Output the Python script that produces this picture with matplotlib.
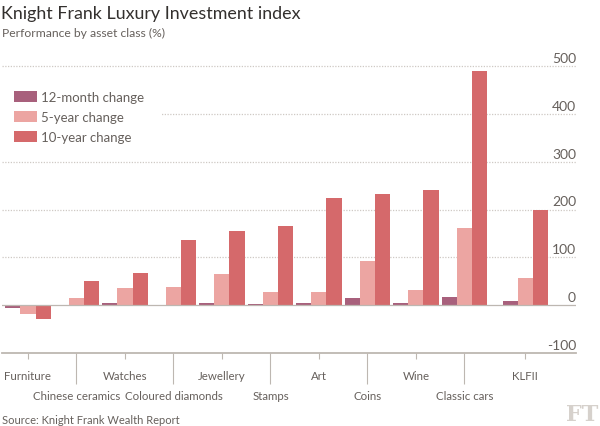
import matplotlib
matplotlib.use("Agg")
import matplotlib.pyplot as plt
import matplotlib.transforms as mtransforms
from matplotlib.patches import Patch
import numpy as np

# -- Data --------------------------------------------------------------------
CATEGORIES = ["Furniture", "Chinese ceramics", "Watches", "Coloured diamonds",
              "Jewellery", "Stamps", "Art", "Coins", "Wine", "Classic cars",
              "KLFII"]
POSITIONS = [0, 1, 2, 3, 4, 5, 6, 7, 8, 9, 10.25]
CHANGE_12M = [-5, 0, 5, 0, 4, 2, 4, 14, 5, 17, 8]
CHANGE_5Y = [-19, 14, 36, 39, 65, 28, 28, 92, 32, 162, 57]
CHANGE_10Y = [-28, 50, 67, 136, 155, 165, 225, 232, 240, 489, 200]
SERIES_LABELS = ["12-month change", "5-year change", "10-year change"]
YTICKS = [-100, 0, 100, 200, 300, 400, 500]

COLORS = ["#a8607c", "#eca5a2", "#d5696b"]
TEXT_DARK = "#33302e"
TEXT_GREY = "#66605c"
LINE_GREY = "#bdb7b1"

plt.rcParams.update({
    "font.family": ["Lato", "DejaVu Sans"],
    "font.size": 9,
})

fig = plt.figure(figsize=(6.0, 4.27), dpi=100, facecolor="white")
ax = fig.add_axes([2 / 600, 1 - 354 / 427, 574 / 600, (354 - 67) / 427])

x = np.array(POSITIONS)
width = 0.31
for i, (vals, color) in enumerate(zip([CHANGE_12M, CHANGE_5Y, CHANGE_10Y],
                                      COLORS)):
    ax.bar(x + (i - 1) * width, vals, width=width, color=color,
           linewidth=0, zorder=3)

ax.set_xlim(-0.536, 11.3)
ax.set_ylim(-100, 500)

# gridlines + y labels on the right, sitting above the line
blend = mtransforms.blended_transform_factory(ax.transAxes, ax.transData)
for v in YTICKS:
    if v == 0:
        ax.axhline(v, color=LINE_GREY, lw=0.9, zorder=4)
    elif v != -100:
        ax.axhline(v, color="#cfc9c4", lw=0.9, ls=(0, (1, 1.2)), zorder=1,
                   clip_on=False)
    ax.annotate(str(v), xy=(1.0, v), xycoords=blend, xytext=(0, 1.5),
                textcoords="offset points", ha="right", va="bottom",
                fontsize=10, color=TEXT_GREY)

for side in ["top", "right", "left"]:
    ax.spines[side].set_visible(False)
ax.spines["bottom"].set_color(LINE_GREY)
ax.spines["bottom"].set_linewidth(1.3)
ax.set_yticks([])

# alternating two-row category labels
upper = [i for i in range(len(CATEGORIES)) if i % 2 == 0]
lower = [i for i in range(len(CATEGORIES)) if i % 2 == 1]
ax.set_xticks([POSITIONS[i] for i in upper])
ax.set_xticklabels([CATEGORIES[i] for i in upper])
ax.set_xticks([POSITIONS[i] for i in lower], minor=True)
ax.set_xticklabels([CATEGORIES[i] for i in lower], minor=True)
ax.tick_params(axis="x", which="major", length=4.5, width=0.8,
               color=LINE_GREY, pad=7.5, labelsize=8.3, labelcolor=TEXT_GREY)
ax.tick_params(axis="x", which="minor", length=22, width=0.8,
               color=LINE_GREY, pad=4.5, labelsize=8.3, labelcolor=TEXT_GREY)

handles = [Patch(facecolor=c, edgecolor="none") for c in COLORS]
leg = ax.legend(handles, SERIES_LABELS, loc="upper left",
                bbox_to_anchor=(-10 / 600, 1 - 68 / 427),
                bbox_transform=fig.transFigure, frameon=True,
                facecolor="white", edgecolor="none", framealpha=1,
                fancybox=False, borderpad=1.3, handlelength=1.75,
                handleheight=0.9, handletextpad=0.35, labelspacing=0.62,
                fontsize=9.5, labelcolor=TEXT_GREY)
leg.set_zorder(5)

fig.text(1 / 600, 1 - 14 / 427, "Knight Frank Luxury Investment index",
         fontsize=12.9, color=TEXT_DARK, ha="left", va="center")
fig.text(2 / 600, 1 - 33 / 427, "Performance by asset class (%)",
         fontsize=8.7, color=TEXT_GREY, ha="left", va="center")
fig.text(2 / 600, 1 - 421 / 427, "Source: Knight Frank Wealth Report",
         fontsize=8, color=TEXT_GREY, ha="left", va="center")
fig.text(598 / 600, 1 - 415 / 427, "FT", fontsize=16, fontweight="bold",
         family="DejaVu Serif", color="#d6d1cc", ha="right", va="center")

fig.savefig("out.png", dpi=100, facecolor="white")
